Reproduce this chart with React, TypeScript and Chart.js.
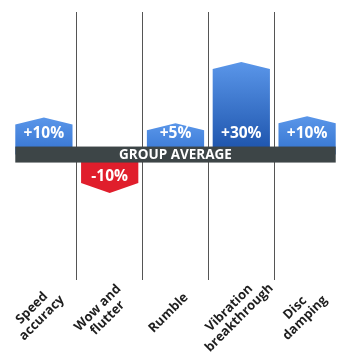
import React, { useEffect, useRef } from "react";
import { Chart, registerables } from "chart.js";

Chart.register(...registerables);

const categories: string[][] = [
  ["Speed", "accuracy"],
  ["Wow and", "flutter"],
  ["Rumble"],
  ["Vibration", "breakthrough"],
  ["Disc", "damping"],
];
const barValues: number[] = [10.5, -10, 8.5, 30, 11];
const valueLabels: string[] = ["+10%", "-10%", "+5%", "+30%", "+10%"];
const baselineLabel = "GROUP AVERAGE";

const FONT = "'Open Sans', 'DejaVu Sans', sans-serif";

function mix(a: number[], b: number[], t: number) {
  const c = a.map((v, i) => Math.round(v + (b[i] - v) * t));
  return `rgb(${c[0]},${c[1]},${c[2]})`;
}

const shapesPlugin = {
  id: "shapes",
  afterDatasetsDraw(chart: any) {
    const ctx: CanvasRenderingContext2D = chart.ctx;
    const meta = chart.getDatasetMeta(0);
    const yScale = chart.scales.y;
    const xScale = chart.scales.x;
    const zero = yScale.getPixelForValue(0);
    const els = meta.data;

    // bars as pentagons
    els.forEach((el: any, i: number) => {
      const { x, y: top, width } = el.getProps(["x", "y", "width"], true);
      const left = x - width / 2;
      const right = x + width / 2;
      const v = barValues[i];
      ctx.save();
      ctx.beginPath();
      if (v >= 0) {
        const roof = 7;
        ctx.moveTo(left, zero);
        ctx.lineTo(left, top);
        ctx.lineTo(x, top - roof);
        ctx.lineTo(right, top);
        ctx.lineTo(right, zero);
        ctx.closePath();
        const h = zero - top;
        const t = Math.max(0, Math.min(1, (h - 20) / 70));
        const g = ctx.createLinearGradient(0, top - roof, 0, zero - 8);
        g.addColorStop(0, "#5a96e9");
        g.addColorStop(1, mix([66, 130, 221], [30, 84, 172], t));
        ctx.fillStyle = g;
      } else {
        const point = 10;
        ctx.moveTo(left, zero);
        ctx.lineTo(left, top);
        ctx.lineTo(x, top + point);
        ctx.lineTo(right, top);
        ctx.lineTo(right, zero);
        ctx.closePath();
        ctx.fillStyle = "#e01e2c";
      }
      ctx.fill();
      ctx.restore();
    });

    // baseline band
    if (els.length) {
      const first = els[0].getProps(["x", "width"], true);
      const last = els[els.length - 1].getProps(["x", "width"], true);
      const bl = first.x - first.width / 2;
      const br = last.x + last.width / 2;
      ctx.save();
      ctx.fillStyle = "#3d4547";
      ctx.fillRect(bl, zero - 8, br - bl, 16);
      ctx.fillStyle = "#ffffff";
      ctx.font = `bold 13.5px ${FONT}`;
      ctx.textAlign = "center";
      ctx.textBaseline = "middle";
      ctx.fillText(baselineLabel, (chart.chartArea.left + chart.chartArea.right) / 2, zero + 0.5);
      ctx.restore();
    }

    // value labels
    els.forEach((el: any, i: number) => {
      const { x } = el.getProps(["x"], true);
      const v = barValues[i];
      ctx.save();
      ctx.fillStyle = "#ffffff";
      ctx.font = `bold 15.5px ${FONT}`;
      ctx.textAlign = "center";
      ctx.textBaseline = "middle";
      ctx.fillText(valueLabels[i], x, v >= 0 ? zero - 21 : zero + 22);
      ctx.restore();
    });

    // category labels, rotated
    const bottom = chart.chartArea.bottom;
    categories.forEach((lines, i) => {
      const cx = xScale.getPixelForValue(i);
      ctx.save();
      ctx.translate(cx - 7, bottom + 33);
      ctx.rotate(-Math.PI / 4);
      ctx.fillStyle = "#1e1e1e";
      ctx.font = `bold 13px ${FONT}`;
      ctx.textAlign = "center";
      ctx.textBaseline = "middle";
      const n = lines.length;
      lines.forEach((ln, j) => {
        ctx.fillText(ln, 0, (j - (n - 1) / 2) * 14);
      });
      ctx.restore();
    });
  },
};

export default function App() {
  const ref = useRef<HTMLCanvasElement | null>(null);
  useEffect(() => {
    if (!ref.current) return;
    const chart = new Chart(ref.current, {
      type: "bar",
      data: {
        labels: categories.map((c) => c.join(" ")),
        datasets: [
          {
            data: barValues,
            backgroundColor: "rgba(0,0,0,0)",
            borderWidth: 0,
            barPercentage: 0.87,
            categoryPercentage: 1,
          },
        ],
      },
      options: {
        animation: false,
        responsive: false,
        devicePixelRatio: 1,
        layout: { padding: { left: 11, right: 0, top: 12, bottom: 74 } },
        plugins: {
          legend: { display: false },
          tooltip: { enabled: false },
          title: { display: false },
        },
        scales: {
          x: {
            offset: true,
            border: { display: false },
            ticks: { display: false },
            grid: {
              offset: true,
              drawTicks: false,
              lineWidth: 1,
              color: (c: any) =>
                c.index === undefined || c.index === 0 ? "rgba(0,0,0,0)" : "#555555",
            },
          },
          y: {
            display: false,
            min: -44,
            max: 50,
            grid: { display: false },
          },
        },
      },
      plugins: [shapesPlugin],
    });
    return () => chart.destroy();
  }, []);
  return (
    <div style={{ position: "fixed", left: 0, top: 0, width: 340, height: 354, background: "#fff" }}>
      <canvas ref={ref} width={340} height={354} style={{ width: 340, height: 354, display: "block" }} />
    </div>
  );
}
